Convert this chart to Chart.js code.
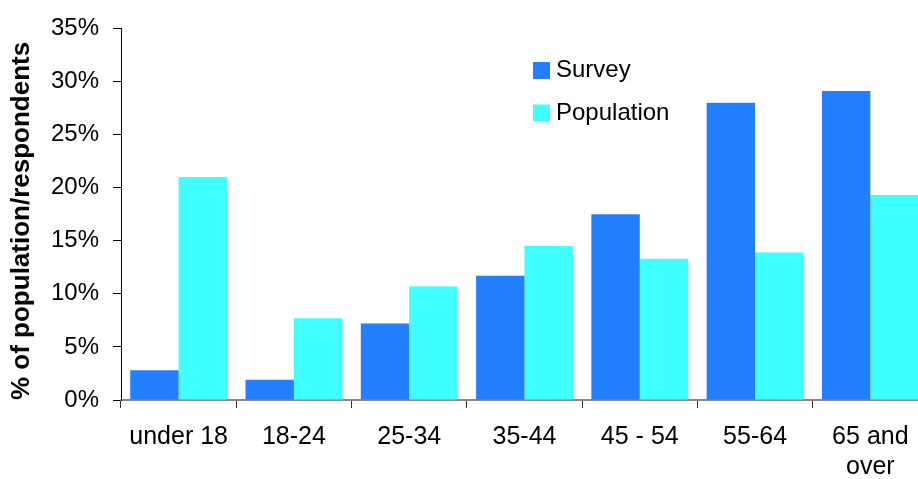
<!DOCTYPE html>
<html>
<head>
<meta charset="utf-8">
<script src="https://cdn.jsdelivr.net/npm/chart.js@4"></script>
<style>
  html, body { margin: 0; padding: 0; background: #fff; overflow: hidden; }
  #wrap { position: absolute; left: 0; top: 0; width: 928px; height: 479px; }
</style>
</head>
<body>
<div id="wrap"><canvas id="c" width="928" height="479"></canvas></div>
<script>
const categories = ['under 18', '18-24', '25-34', '35-44', '45 - 54', '55-64', ['65 and', 'over']];
const surveyValues = [2.8, 1.9, 7.2, 11.7, 17.5, 28.0, 29.1];
const populationValues = [21.0, 7.7, 10.7, 14.5, 13.3, 13.9, 19.3];
const seriesNames = ['Survey', 'Population'];
const yTickMin = 0, yTickMax = 35, yTickStep = 5;
const yTitle = '% of population/respondents';

const FONT = '"Liberation Sans", Arial, sans-serif';

const boxLegend = {
  id: 'boxLegend',
  afterDraw(chart) {
    const ctx = chart.ctx;
    ctx.save();
    ctx.font = '24px ' + FONT;
    ctx.textBaseline = 'alphabetic';
    ctx.textAlign = 'left';
    chart.data.datasets.forEach((ds, i) => {
      const top = 62 + i * 42.5;
      ctx.fillStyle = ds.backgroundColor;
      ctx.fillRect(533, top, 17, 17);
      ctx.fillStyle = '#000';
      ctx.fillText(ds.label, 556, top + 15);
    });
    ctx.restore();
  }
};

new Chart(document.getElementById('c'), {
  type: 'bar',
  data: {
    labels: categories,
    datasets: [
      { label: seriesNames[0], data: surveyValues, backgroundColor: '#2280FF', borderWidth: 0,
        barPercentage: 1.0, categoryPercentage: 0.84 },
      { label: seriesNames[1], data: populationValues, backgroundColor: '#40FFFF', borderWidth: 0,
        barPercentage: 1.0, categoryPercentage: 0.84 }
    ]
  },
  options: {
    responsive: false,
    animation: false,
    devicePixelRatio: 1,
    layout: { padding: { top: 27, right: 0, bottom: 0, left: 0 } },
    plugins: { legend: { display: false }, tooltip: { enabled: false } },
    scales: {
      x: {
        offset: true,
        grid: { offset: true, drawOnChartArea: false, drawTicks: true, tickLength: 8, color: '#333', lineWidth: 1 },
        border: { display: true, color: '#888', width: 2 },
        ticks: { color: '#000', font: { family: FONT, size: 25, lineHeight: 1.2 }, padding: 14,
                 autoSkip: false, maxRotation: 0, minRotation: 0 },
        afterFit(scale) { scale.height = 79; }
      },
      y: {
        min: yTickMin, max: yTickMax,
        grid: { drawOnChartArea: false, drawTicks: true, tickLength: 8, color: '#000', lineWidth: 1 },
        border: { display: true, color: '#000', width: 1 },
        ticks: { stepSize: yTickStep, color: '#000', font: { family: FONT, size: 24 }, padding: 14,
                 callback: (v) => v + '%' },
        title: { display: true, text: yTitle, align: 'start', color: '#000',
                 font: { family: FONT, size: 26, weight: 'bold', lineHeight: 1.2 }, padding: { top: 6, bottom: 0 } },
        afterFit(scale) { scale.width = 121; }
      }
    }
  },
  plugins: [boxLegend]
});
</script>
</body>
</html>
